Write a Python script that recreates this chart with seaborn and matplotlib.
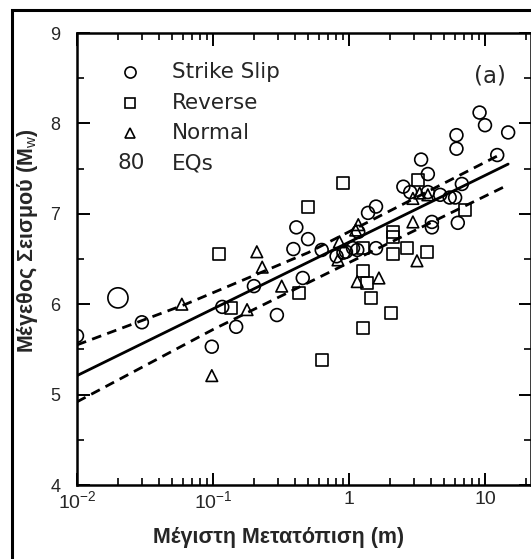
import numpy as np
import pandas as pd
import matplotlib
matplotlib.use("Agg")
import matplotlib.pyplot as plt
import seaborn as sns
from matplotlib.ticker import FixedLocator, FixedFormatter, NullFormatter
from matplotlib.patches import Rectangle

sns.set_theme(style="white")
plt.rcParams['font.family'] = ['Liberation Sans', 'DejaVu Sans']
plt.rcParams['mathtext.fontset'] = 'custom'
plt.rcParams['mathtext.rm'] = 'Liberation Sans'

# ---- data (maximum displacement in m, moment magnitude) ----
ss_disp = [0.010, 0.030, 0.098, 0.117, 0.148, 0.20, 0.295, 0.457, 0.41, 0.50,
           0.39, 0.63, 0.81, 0.95, 1.07, 1.15, 1.17, 1.38, 1.58, 1.58,
           2.51, 2.82, 3.39, 3.80, 3.80, 4.68, 5.50, 6.03, 6.76, 4.07,
           4.07, 6.31, 6.17, 6.17, 9.12, 10.0, 14.8, 12.3, 0.91]
ss_mw = [5.65, 5.80, 5.53, 5.97, 5.75, 6.20, 5.88, 6.29, 6.85, 6.72,
         6.61, 6.60, 6.53, 6.58, 6.62, 6.60, 6.80, 7.01, 7.08, 6.62,
         7.30, 7.24, 7.60, 7.44, 7.24, 7.21, 7.18, 7.18, 7.33, 6.91,
         6.85, 6.90, 7.87, 7.72, 8.12, 7.98, 7.90, 7.65, 6.57]
big_disp = [0.020]
big_mw = [6.07]

rv_disp = [0.11, 0.135, 0.50, 0.43, 0.91, 0.63, 1.26, 1.45, 2.04, 1.26,
           1.35, 2.09, 2.69, 3.72, 2.09, 2.09, 3.24, 7.08, 1.26]
rv_mw = [6.56, 5.96, 7.08, 6.12, 7.34, 5.38, 5.74, 6.07, 5.90, 6.37,
         6.23, 6.55, 6.62, 6.58, 6.80, 6.74, 7.37, 7.04, 6.62]

nm_disp = [0.059, 0.098, 0.178, 0.21, 0.23, 0.32, 0.85, 0.83, 1.17, 1.12,
           1.15, 1.66, 2.95, 3.16, 3.80, 2.95, 3.31]
nm_mw = [6.00, 5.21, 5.94, 6.58, 6.41, 6.20, 6.69, 6.49, 6.88, 6.82,
         6.25, 6.29, 6.91, 6.48, 7.21, 7.17, 7.23]

# regression line and confidence bounds
fit_x = [0.01, 14.8]
fit_y = [5.21, 7.55]
upper_x = [0.01, 0.063, 0.50, 13.5]
upper_y = [5.55, 6.00, 6.57, 7.67]
lower_x = [0.01, 0.10, 1.0, 14.8]
lower_y = [4.92, 5.72, 6.46, 7.32]

legend_labels = ["Strike Slip", "Reverse", "Normal"]
count_label = "80"
count_text = "EQs"
panel_label = "(a)"
xlabel = "Μέγιστη Μετατόπιση (m)"
ylabel = "Μέγεθος Σεισμού (M$_{\\rm w}$)"
xtick_vals = [0.01, 0.1, 1, 10]
xtick_labels = ["$10^{-2}$", "$10^{-1}$", "1", "10"]
ytick_vals = [4, 5, 6, 7, 8, 9]

W, H = 531, 559
fig = plt.figure(figsize=(W / 100, H / 100), dpi=100)
L, R, T, B = 77, 531, 33, 485
ax = fig.add_axes([L / W, 1 - B / H, (R - L) / W, (B - T) / H])

mk = dict(facecolor="none", edgecolor="black", linewidth=1.2, zorder=3)
sns.scatterplot(x=ss_disp, y=ss_mw, marker="o", s=85, ax=ax, **mk)
sns.scatterplot(x=big_disp, y=big_mw, marker="o", s=210, ax=ax, **mk)
sns.scatterplot(x=rv_disp, y=rv_mw, marker="s", s=75, ax=ax, **mk)
sns.scatterplot(x=nm_disp, y=nm_mw, marker="^", s=70, ax=ax, **mk)

sns.lineplot(x=fit_x, y=fit_y, color="black", linewidth=2.0, ax=ax, zorder=4)
sns.lineplot(x=upper_x, y=upper_y, color="black", linewidth=2.0, ax=ax,
             linestyle=(0, (3.5, 2.3)), zorder=4)
sns.lineplot(x=lower_x, y=lower_y, color="black", linewidth=2.0, ax=ax,
             linestyle=(0, (3.5, 2.3)), zorder=4)

ax.set_xscale("log")
ax.set_xlim(0.01, 10 ** (-2 + (R - L) / 136.0))
ax.set_ylim(4, 9)

for s in ax.spines.values():
    s.set_linewidth(1.8)
    s.set_color("black")

ax.xaxis.set_major_locator(FixedLocator(xtick_vals))
ax.xaxis.set_major_formatter(FixedFormatter(xtick_labels))
minors = [m * 10.0 ** e for e in (-2, -1, 0, 1) for m in range(2, 10)]
ax.xaxis.set_minor_locator(FixedLocator(minors))
ax.xaxis.set_minor_formatter(NullFormatter())
ax.yaxis.set_major_locator(FixedLocator(ytick_vals))
ax.yaxis.set_minor_locator(FixedLocator([4.5, 5.5, 6.5, 7.5, 8.5]))
ax.tick_params(which="both", direction="in", top=True, right=True,
               bottom=True, left=True, color="black")
ax.tick_params(which="major", length=9, width=1.4)
ax.tick_params(which="minor", length=5, width=1.2)
ax.tick_params(axis="x", which="major", labelsize=14, pad=4)
ax.tick_params(axis="y", which="major", labelsize=13, pad=12)

ax.set_xlabel(xlabel, fontsize=15.5, fontweight="bold")
ax.set_ylabel(ylabel, fontsize=15.5, fontweight="bold")
ax.xaxis.set_label_coords(0.443, -0.093)
ax.yaxis.set_label_coords(-0.081, 0.54)

# legend
lx_m, lx_t = 0.117, 0.209
ys = [0.914, 0.845, 0.779]
legfont = dict(fontsize=15.5, family=['DejaVu Sans'])
for yy, m, lab in zip(ys, ["o", "s", "^"], legend_labels):
    ax.plot([lx_m], [yy], marker=m, markersize=7 if m != "o" else 8,
            markerfacecolor="none", markeredgecolor="black",
            markeredgewidth=1.2, transform=ax.transAxes, clip_on=False)
    ax.text(lx_t, yy, lab, transform=ax.transAxes,
            va="center", ha="left", **legfont)
ax.text(0.119, 0.712, count_label, transform=ax.transAxes,
        va="center", ha="center", **legfont)
ax.text(lx_t, 0.712, count_text, transform=ax.transAxes,
        va="center", ha="left", **legfont)
ax.text(0.91, 0.905, panel_label, transform=ax.transAxes,
        va="center", ha="center", fontsize=16.5, family=['DejaVu Sans'])

# outer frame
fig.patches.append(Rectangle((12 / W, -0.1), 1.2, 1 - 10 / H + 0.1,
                             transform=fig.transFigure, fill=False,
                             edgecolor="black", linewidth=2.2))

fig.savefig("out.png", dpi=100)
